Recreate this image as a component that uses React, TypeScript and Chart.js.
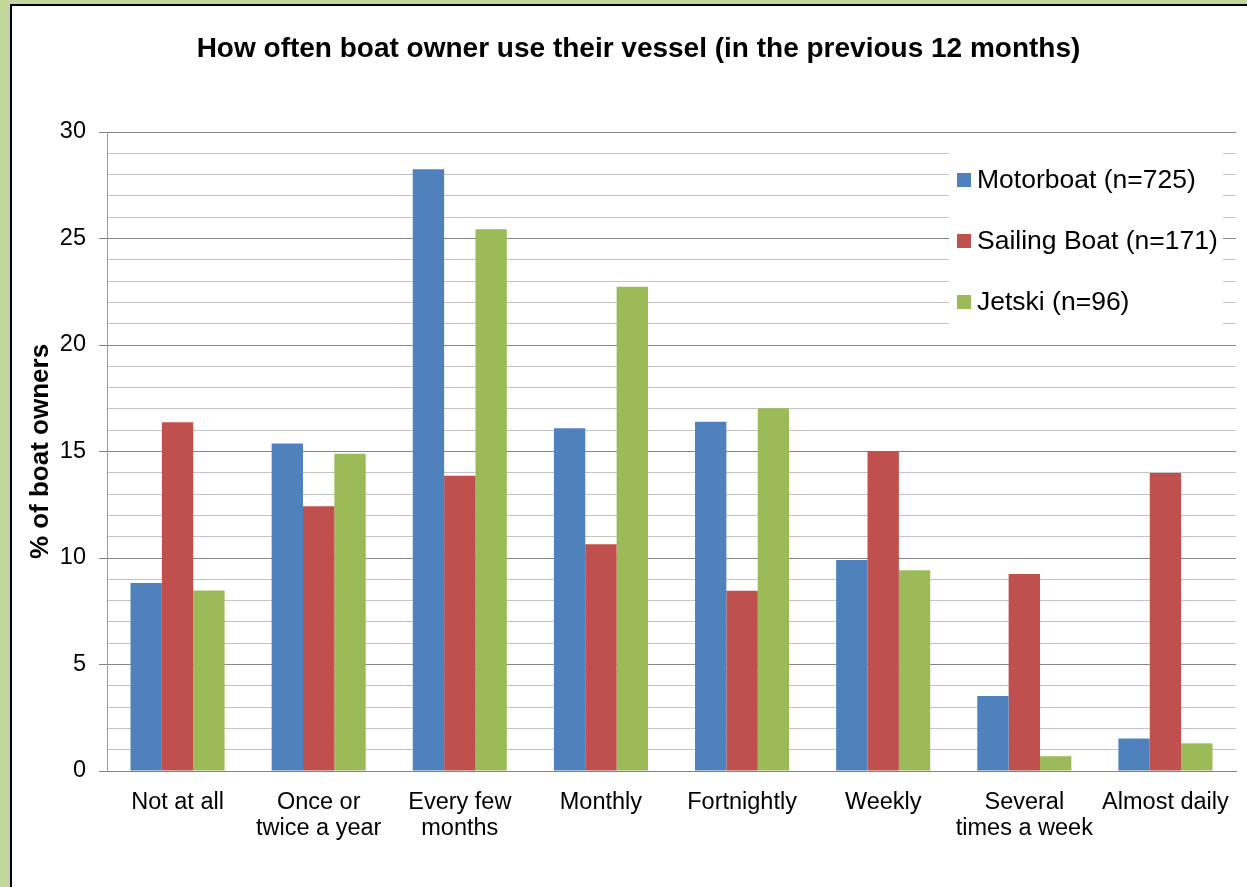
import React, { useEffect, useRef } from "react";
import { Chart, registerables } from "chart.js";

Chart.register(...registerables);

const categories: (string | string[])[] = [
  "Not at all",
  ["Once or", "twice a year"],
  ["Every few", "months"],
  "Monthly",
  "Fortnightly",
  "Weekly",
  ["Several", "times a week"],
  "Almost daily",
];

const motorboat = [8.83, 15.38, 28.25, 16.09, 16.4, 9.91, 3.52, 1.53];
const sailingBoat = [16.37, 12.43, 13.86, 10.64, 8.46, 15.02, 9.25, 13.99];
const jetski = [8.48, 14.9, 25.43, 22.74, 17.03, 9.42, 0.69, 1.3];

const seriesNames = ["Motorboat (n=725)", "Sailing Boat (n=171)", "Jetski (n=96)"];
const seriesColors = ["#4F81BD", "#C0504D", "#9BBB59"];

const titleText = "How often boat owner use their vessel (in the previous 12 months)";
const yAxisTitle = "% of boat owners";

const FONT = "'Liberation Sans', Arial, Helvetica, sans-serif";
const MAJOR = "#868686";
const MINOR = "#C4C4C4";

// Title centred across the whole canvas, above the plot
const centeredTitle = {
  id: "centeredTitle",
  afterDraw(chart: any) {
    const { ctx } = chart;
    ctx.save();
    ctx.font = `bold 28px ${FONT}`;
    ctx.fillStyle = "#000000";
    ctx.textAlign = "center";
    ctx.textBaseline = "middle";
    ctx.fillText(titleText, chart.width / 2, 43.5);
    ctx.restore();
  },
};

// Legend drawn inside the plot area, on a white panel at the top right
const insideLegend = {
  id: "insideLegend",
  afterDatasetsDraw(chart: any) {
    const { ctx, chartArea } = chart;
    const boxRight = chartArea.right - 13;
    const boxLeft = boxRight - 274;
    const boxTop = chartArea.top + 8;
    const boxBottom = boxTop + 195;
    ctx.save();
    ctx.fillStyle = "#FFFFFF";
    ctx.fillRect(boxLeft, boxTop, boxRight - boxLeft, boxBottom - boxTop);
    ctx.font = `26.5px ${FONT}`;
    ctx.textBaseline = "middle";
    ctx.textAlign = "left";
    chart.data.datasets.forEach((ds: any, i: number) => {
      const cy = boxTop + 40 + i * 61;
      ctx.fillStyle = ds.backgroundColor;
      ctx.fillRect(boxLeft + 8, cy - 7, 14, 14);
      ctx.fillStyle = "#000000";
      ctx.fillText(ds.label, boxLeft + 28, cy + 1);
    });
    ctx.restore();
  },
};

function BoatChart() {
  const canvasRef = useRef<HTMLCanvasElement | null>(null);

  useEffect(() => {
    if (!canvasRef.current) return;
    const values = [motorboat, sailingBoat, jetski];
    const chart = new Chart(canvasRef.current, {
      type: "bar",
      data: {
        labels: categories,
        datasets: values.map((v, i) => ({
          label: seriesNames[i],
          data: v,
          backgroundColor: seriesColors[i],
          borderWidth: 0,
          categoryPercentage: 2 / 3,
          barPercentage: 1,
        })),
      },
      options: {
        responsive: false,
        animation: false,
        devicePixelRatio: 1,
        layout: { padding: { left: 0, right: 29, top: 126, bottom: 0 } },
        plugins: {
          legend: { display: false },
          tooltip: { enabled: false },
          title: { display: false },
        },
        scales: {
          x: {
            grid: { display: true, color: "rgba(0,0,0,0)", drawTicks: false },
            border: { display: true, color: MAJOR, width: 1 },
            ticks: {
              color: "#000000",
              font: { family: FONT, size: 23.5, lineHeight: 1.12 },
              padding: 18,
              maxRotation: 0,
              autoSkip: false,
            },
            afterFit(scale: any) {
              scale.height = 116;
            },
          },
          y: {
            min: 0,
            max: 30,
            grid: {
              color: (c: any) => (c.tick && c.tick.value % 5 === 0 ? MAJOR : MINOR),
              tickColor: (c: any) =>
                c.tick && c.tick.value % 5 === 0 ? MAJOR : "rgba(0,0,0,0)",
              tickLength: 8,
              lineWidth: 1,
            },
            border: { display: true, color: "#9A9A9A", width: 1 },
            ticks: {
              stepSize: 1,
              autoSkip: false,
              color: "#000000",
              font: { family: FONT, size: 23.5 },
              padding: 13,
              callback: (v: any) => (Number(v) % 5 === 0 ? String(v) : ""),
            },
            title: {
              display: true,
              text: yAxisTitle,
              color: "#000000",
              font: { family: FONT, size: 26, weight: "bold", lineHeight: 1.2 },
              padding: { top: 13, bottom: 0 },
            },
            afterFit(scale: any) {
              scale.width = 95;
            },
          },
        },
      },
      plugins: [insideLegend, centeredTitle],
    } as any);
    return () => chart.destroy();
  }, []);

  return (
    <canvas
      ref={canvasRef}
      width={1253}
      height={881}
      style={{ position: "absolute", left: 0, top: 0, width: 1253, height: 881 }}
    />
  );
}

export default function App() {
  return (
    <div
      style={{
        position: "absolute",
        left: 0,
        top: 0,
        width: 1247,
        height: 887,
        overflow: "hidden",
        background: "#C3D69B",
      }}
    >
      <div
        style={{
          position: "absolute",
          left: 10,
          top: 4,
          width: 1300,
          height: 1000,
          background: "#FFFFFF",
          borderLeft: "2px solid #000000",
          borderTop: "2px solid #000000",
        }}
      >
        <BoatChart />
      </div>
    </div>
  );
}
